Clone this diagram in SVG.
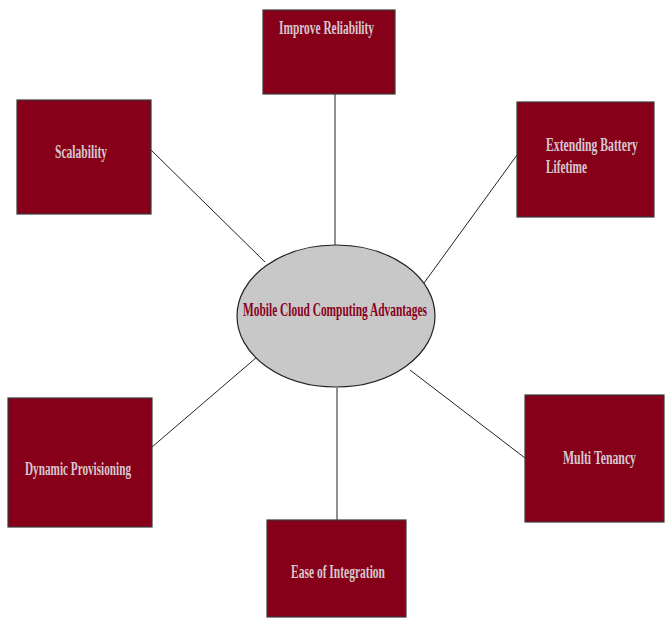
<svg xmlns="http://www.w3.org/2000/svg" width="665" height="618" viewBox="0 0 665 618">
  <style>
    .box { fill: #850018; stroke: #3a3a3a; stroke-width: 1.2; }
    .lbl { font-family: "Liberation Serif", "Times New Roman", serif; font-weight: bold; font-size: 19px; fill: #d6c8d0; }
    .hub { fill: #c8c8c8; stroke: #222; stroke-width: 1.2; }
    .hubtxt { font-family: "Liberation Serif", "Times New Roman", serif; font-weight: bold; font-size: 19px; fill: #8a0020; }
    .link { stroke: #222; stroke-width: 1; fill: none; }
  </style>
  <rect width="665" height="618" fill="#ffffff"/>

  <g id="connectors">
    <line class="link" x1="335" y1="94" x2="335" y2="245"/>
    <line class="link" x1="151" y1="150" x2="265" y2="262"/>
    <line class="link" x1="517" y1="155" x2="424" y2="283"/>
    <line class="link" x1="152" y1="447" x2="257" y2="357"/>
    <line class="link" x1="525" y1="458" x2="410" y2="370"/>
    <line class="link" x1="337" y1="388" x2="337" y2="520"/>
  </g>

  <!-- labels are set in a condensed serif: scaled to 60% width -->
  <g id="hub">
    <ellipse class="hub" cx="336" cy="316" rx="99" ry="71"/>
    <text class="hubtxt" transform="translate(243,316) scale(0.6,1)" textLength="306.7" lengthAdjust="spacingAndGlyphs">Mobile Cloud Computing Advantages</text>
  </g>

  <g id="improve-reliability">
    <rect class="box" x="263" y="10" width="132" height="84"/>
    <text class="lbl" transform="translate(279,34) scale(0.6,1)" textLength="158.3" lengthAdjust="spacingAndGlyphs">Improve Reliability</text>
  </g>

  <g id="scalability">
    <rect class="box" x="17" y="100" width="134" height="114"/>
    <text class="lbl" transform="translate(55,158) scale(0.6,1)" textLength="86.7" lengthAdjust="spacingAndGlyphs">Scalability</text>
  </g>

  <g id="extending-battery-lifetime">
    <rect class="box" x="517" y="102" width="137" height="115"/>
    <text class="lbl" transform="translate(546,151) scale(0.6,1)" textLength="153.3" lengthAdjust="spacingAndGlyphs">Extending Battery</text>
    <text class="lbl" transform="translate(546,173) scale(0.6,1)" textLength="68.3" lengthAdjust="spacingAndGlyphs">Lifetime</text>
  </g>

  <g id="dynamic-provisioning">
    <rect class="box" x="8" y="398" width="144" height="129"/>
    <text class="lbl" transform="translate(25,475) scale(0.6,1)" textLength="176.7" lengthAdjust="spacingAndGlyphs">Dynamic Provisioning</text>
  </g>

  <g id="multi-tenancy">
    <rect class="box" x="525" y="395" width="139" height="127"/>
    <text class="lbl" transform="translate(563,464) scale(0.6,1)" textLength="121.7" lengthAdjust="spacingAndGlyphs">Multi Tenancy</text>
  </g>

  <g id="ease-of-integration">
    <rect class="box" x="267" y="520" width="139" height="97"/>
    <text class="lbl" transform="translate(291,578) scale(0.6,1)" textLength="156.7" lengthAdjust="spacingAndGlyphs">Ease of Integration</text>
  </g>
</svg>
